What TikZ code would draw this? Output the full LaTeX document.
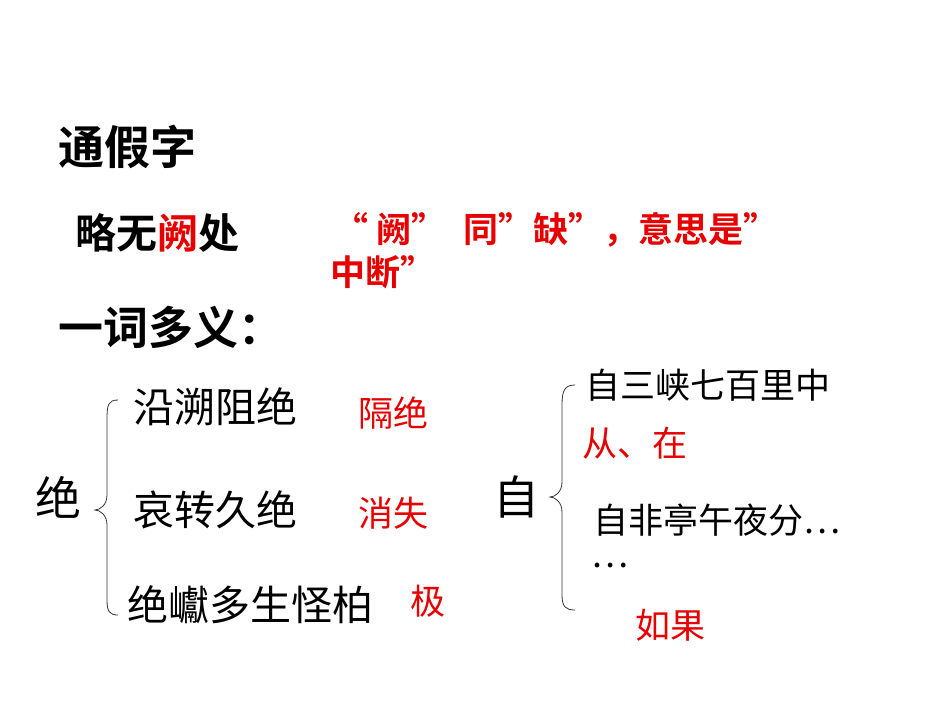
\documentclass[tikz,border=0pt]{standalone}
\usepackage{fontspec}
\newfontfamily\cjk{Noto Sans CJK SC}
\newfontfamily\cjkb{Noto Sans CJK SC Bold}
\definecolor{myred}{RGB}{230,0,0}
\begin{document}
\begin{tikzpicture}[x=1pt,y=-1pt,
  txt/.style={anchor=west,inner sep=0pt,font=\cjk\fontsize{36}{40}\selectfont},
  btxt/.style={anchor=west,inner sep=0pt,font=\cjkb\fontsize{46}{50}\selectfont},
  rtxt/.style={txt,text=myred},
  rbtxt/.style={anchor=west,inner sep=0pt,text=myred,font=\cjkb\fontsize{35}{38}\selectfont},
  brace/.style={draw=black!80,line width=0.8pt}]
\useasboundingbox (0,0) rectangle (950,713);
\node[btxt] (t1) at (58,147) {通假字};
\node[btxt,font=\cjkb\fontsize{41}{44}\selectfont] (t2) at (75,233) {略无\textcolor{myred}{阙}处};
\node[rbtxt] (r1) at (333,230) {“ 阙”\enspace 同”缺”，意思是”};
\node[rbtxt] (r2) at (330,272) {中断”};
\node[btxt,font=\cjkb\fontsize{45}{48}\selectfont] (t3) at (58,327) {一词多义：};
\node[txt,font=\cjk\fontsize{46}{50}\selectfont] (jue) at (35,497) {绝};
\node[txt,font=\cjk\fontsize{41}{44}\selectfont] (a1) at (133,407) {沿溯阻绝};
\node[rtxt,font=\cjk\fontsize{35}{38}\selectfont] (a1r) at (358,413) {隔绝};
\node[txt,font=\cjk\fontsize{41}{44}\selectfont] (a2) at (133,510) {哀转久绝};
\node[rtxt,font=\cjk\fontsize{35}{38}\selectfont] (a2r) at (358,513) {消失};
\node[txt,font=\cjk\fontsize{41}{44}\selectfont] (a3) at (127,605) {绝巘多生怪柏};
\node[rtxt,font=\cjk\fontsize{35}{38}\selectfont] (a3r) at (410,601) {极};
\coordinate (b1t) at (118,400); \coordinate (b1m) at (95,510); \coordinate (b1b) at (118,615);
\draw[brace] (b1t) .. controls (108,400) and (107,405) .. (107,420) -- (107,495) .. controls (107,505) and (100,510) .. (b1m)
  .. controls (100,510) and (107,515) .. (107,525) -- (107,600) .. controls (107,612) and (110,615) .. (b1b);
\node[txt,font=\cjk\fontsize{46}{50}\selectfont] (zi) at (493,497) {自};
\node[txt,font=\cjk\fontsize{35}{38}\selectfont] (c1) at (585,385) {自三峡七百里中};
\node[rtxt,font=\cjk\fontsize{35}{38}\selectfont] (c1r) at (582,443) {从、在};
\node[txt,font=\cjk\fontsize{35}{38}\selectfont] (c2) at (593,520) {自非亭午夜分…};
\node[txt,font=\cjk\fontsize{35}{38}\selectfont] (c3) at (591,566) {…};
\node[rtxt,font=\cjk\fontsize{35}{38}\selectfont] (c2r) at (635,625) {如果};
\coordinate (b2t) at (575,385); \coordinate (b2m) at (550,497); \coordinate (b2b) at (575,610);
\draw[brace] (b2t) .. controls (565,385) and (562,390) .. (562,405) -- (562,482) .. controls (562,492) and (555,497) .. (b2m)
  .. controls (555,497) and (562,502) .. (562,512) -- (562,595) .. controls (562,607) and (566,610) .. (b2b);
\end{tikzpicture}
\end{document}
